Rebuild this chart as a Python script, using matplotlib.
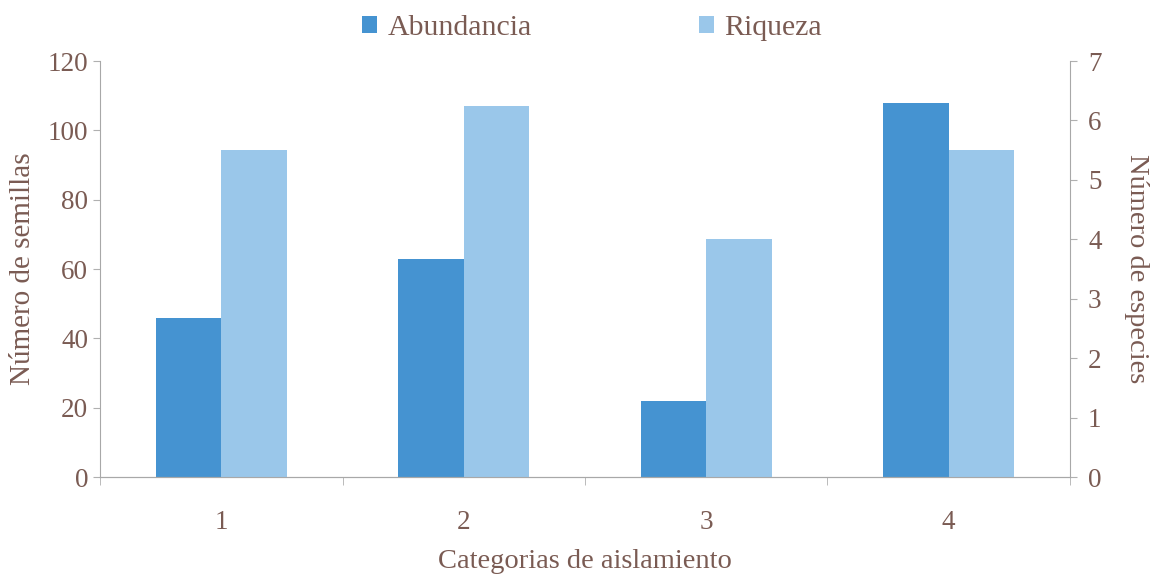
import matplotlib.pyplot as plt
import numpy as np

categorias = ['1', '2', '3', '4']
abundancia = [46, 63, 22, 108]
riqueza = [5.5, 6.25, 4, 5.5]

TXT = '#7a5b53'
plt.rcParams['font.family'] = ['Liberation Serif', 'DejaVu Serif']

fig = plt.figure(figsize=(11.63, 5.81), dpi=100)
ax = fig.add_axes([0.086, 0.179, 0.834, 0.716])
ax2 = ax.twinx()

x = np.arange(len(categorias))
w = 0.27
b1 = ax.bar(x - w / 2, abundancia, w, color='#4593d1', label='Abundancia')
b2 = ax2.bar(x + w / 2, riqueza, w, color='#9ac7ea', label='Riqueza')

ax.set_xlim(-0.5, 3.5)
ax.set_ylim(0, 120)
ax2.set_ylim(0, 7)
ax.set_yticks(range(0, 121, 20))
ax2.set_yticks(range(0, 8))
ax.set_xticks(x)
ax.set_xticklabels(categorias)
ax.set_xticks(np.arange(-0.5, 4, 1), minor=True)
ax.tick_params(axis='x', which='major', length=0, pad=24)
ax.tick_params(axis='x', which='minor', length=6, color='#b0b0b0')

for a in (ax, ax2):
    a.spines['top'].set_visible(False)
    for s in ('left', 'right', 'bottom'):
        a.spines[s].set_color('#a8a8a8')
    a.tick_params(axis='y', labelsize=19.5, labelcolor=TXT, color='#b0b0b0', length=5)
ax.tick_params(axis='x', labelsize=19.5, labelcolor=TXT)
ax2.spines['left'].set_visible(False)
ax.spines['right'].set_visible(False)
ax2.tick_params(axis='y', pad=8)

ax.set_ylabel('Número de semillas', fontsize=21, color=TXT, labelpad=8)
ax2.set_ylabel('Número de especies', fontsize=20.5, color=TXT, rotation=270, labelpad=34)
ax.set_xlabel('Categorias de aislamiento', fontsize=20.5, color=TXT, labelpad=10)

leg = fig.legend([b1, b2], ['Abundancia', 'Riqueza'], loc='upper center',
                 bbox_to_anchor=(0.509, 1.02), ncol=2, frameon=False, fontsize=21.5,
                 handlelength=0.5, handleheight=0.5, handletextpad=0.35, columnspacing=5.6)
for t in leg.get_texts():
    t.set_color(TXT)

fig.savefig('out.png', dpi=100)
